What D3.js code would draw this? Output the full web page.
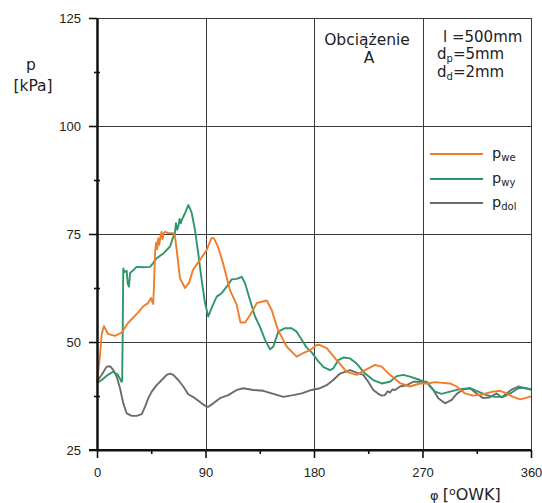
<!DOCTYPE html>
<html><head><meta charset="utf-8">
<script src="https://cdn.jsdelivr.net/npm/d3@7"></script>
<style>
html,body{margin:0;padding:0;background:#fff;}
svg{display:block;}
</style></head>
<body>
<svg id="chart" width="542" height="503"></svg>
<script>
// ---- data (degrees OWK, pressure kPa) ----
const xTicks = [0, 90, 180, 270, 360];
const xMinorTicks = [45, 135, 225, 315];
const yTicks = [25, 50, 75, 100, 125];
const yMinorTicks = [37.5, 62.5, 87.5, 112.5];
const seriesNames = ["we", "wy", "dol"];

const pWe = [[0,40.5],[2.5,47],[4,52],[5.8,53.7],[7,53],[9.1,51.9],[14.9,51.4],[20.5,52.2],[25.7,54.4],[34,56.8],[38.2,58.2],[42.3,59],[44.8,60.2],[46,59.2],[46.6,58.8],[47.3,63],[48.1,70.5],[49,73],[49.8,71.5],[50.8,74],[51.6,72.5],[52.6,74.3],[53.5,75.5],[54.3,73.8],[55.3,75.2],[56.4,75.5],[58.9,75.2],[63,75.2],[64.5,74.8],[66.1,71.3],[68.8,64.8],[73,62.5],[76.5,63.8],[79.6,66.7],[85.4,69],[91,71.3],[95.1,74.1],[97,74],[100.4,72],[104.5,68.3],[110.3,62],[115.9,58.6],[119,54.5],[122.8,54.5],[126.9,56.2],[132.5,59],[140.8,59.6],[144.9,57.4],[150.1,52.8],[157.4,48.9],[165.6,46.6],[170.9,47.4],[176.7,48.1],[182.2,49.3],[185,49.3],[190.5,48.6],[198.8,45.8],[207.1,43.1],[215.4,42.4],[222.3,43.5],[230.6,44.7],[236.1,44.3],[243,42.4],[251.3,40.5],[259.6,39.7],[267.9,40.4],[274.6,40.4],[280,40.7],[292.8,40.4],[298.4,39.7],[305.2,38.1],[311.9,37.6],[320.2,37.9],[328.5,38.5],[334.3,38.7],[339.8,38.1],[345.1,37.3],[350.9,36.7],[355,37],[360,37.4]];

const pWy = [[0,40.5],[3.9,41.2],[9.1,42.4],[13.3,43.1],[17.4,42.4],[20.3,40.8],[20.9,41],[21.4,55],[21.8,67],[23,66.2],[24.6,66.5],[25.5,63.5],[26.5,62.8],[27.5,66],[28.8,66.3],[32.9,67.4],[38.2,67.3],[44,67.4],[46.4,68.2],[49.5,69.4],[55,70.5],[60.6,72.1],[63.3,74.4],[64.5,75],[65.5,77.5],[66.5,76],[67.4,76.7],[68.5,78.5],[69.5,77.5],[70.3,78.2],[73,79.8],[75.7,81.7],[77,81],[78.6,79.8],[81.3,75.9],[84,70.5],[86.8,64.4],[89.6,59],[92.3,55.9],[95.1,57.9],[99.3,60.5],[103.4,61.3],[107.6,62.8],[111.7,64.5],[115.9,64.6],[120,65.1],[122.8,63.6],[126.9,59.7],[131.1,55.9],[135.2,53.5],[139.4,50.5],[143.5,48.3],[146.2,48.9],[150.4,52.4],[155.9,53.2],[161.5,53.2],[165.6,52.4],[169.8,50.5],[173.9,48.7],[178.1,47.6],[183.6,45.5],[188,44.2],[193.3,43.5],[196,43.9],[200.1,45.8],[204.3,46.4],[209.9,46.2],[215.4,45],[222.3,42.7],[229.2,41.2],[236.1,40.4],[243,40.8],[248.6,42.1],[254.1,42.4],[259.6,42],[267.9,41.2],[274.6,40.4],[276.2,39.7],[280.4,38.5],[285.9,38],[292.8,38.5],[301.1,39.1],[309.4,39.3],[316.3,38.5],[323.2,37.7],[330.1,37.3],[337,37.3],[344,38.3],[349.5,39.3],[355,39.4],[360,39]];

const pDol = [[0,40.8],[3.9,42.4],[8,44.3],[10.8,44.4],[13.6,43.5],[16.3,42],[19.1,39.3],[21.8,35.8],[24.6,33.5],[28.8,32.9],[32.9,32.9],[37.1,33.3],[39.8,35],[42.6,37],[45.4,38.5],[49.5,40],[53.7,41.2],[57.8,42.4],[60.6,42.7],[63.3,42.4],[67.4,41.2],[71.6,39.7],[75.7,37.9],[81.3,37],[86.8,35.8],[91,35],[92.3,35],[96.5,35.8],[102,37],[108.9,37.7],[115.9,38.9],[121.4,39.3],[129.6,38.9],[137.9,38.7],[144.9,38.1],[154.5,37.3],[162.8,37.7],[169.8,38.1],[178.1,38.9],[185,39.3],[190.5,40],[196,41.2],[201.6,42.7],[205.7,43.1],[209.9,43.5],[215.4,42.9],[220.9,42.4],[225,40.8],[229.2,38.9],[233.3,38],[236,37.6],[238.9,37.7],[241,38.6],[243,38.3],[245,39],[247.2,38.9],[251.3,39.7],[256.9,40],[262.4,40.8],[267.9,40.8],[273.5,40.8],[279,38.9],[283.1,37],[288.7,35.8],[294.2,36.6],[298.4,38],[303.8,39],[309.4,39.3],[314.9,38.1],[320.4,37],[326,37.2],[331.5,38.1],[335.7,37.2],[339.8,38.1],[344,39],[349.5,39.7],[355,39.3],[360,39]];

const colors = ["#ef7d29", "#2e9668", "#6b6b6b"];

// ---- drawing ----
const svg = d3.select("#chart");
const x = d3.scaleLinear().domain([0, 360]).range([97, 531]);
const y = d3.scaleLinear().domain([25, 125]).range([450, 18]);

// grid
const grid = svg.append("g").attr("stroke", "#3a3a3a").attr("stroke-width", 1);
yTicks.filter(v => v > 25).forEach(v => {
  grid.append("line").attr("x1", x(0)).attr("x2", x(360))
    .attr("y1", Math.round(y(v)) + 0.5).attr("y2", Math.round(y(v)) + 0.5);
});
xTicks.filter(v => v > 0).forEach(v => {
  grid.append("line").attr("y1", y(125)).attr("y2", y(25))
    .attr("x1", Math.round(x(v)) + 0.5).attr("x2", Math.round(x(v)) + 0.5);
});

// series
const line = d3.line().x(d => x(d[0])).y(d => y(d[1]));
[pDol, pWy, pWe].forEach((s, i) => {
  const c = [colors[2], colors[1], colors[0]][i];
  svg.append("path").datum(s).attr("d", line)
    .attr("fill", "none").attr("stroke", c).attr("stroke-width", 1.9)
    .attr("stroke-linejoin", "round");
});

// axes
const tickFont = "'Liberation Sans', Arial, sans-serif";
const xAxis = svg.append("g").attr("transform", `translate(0,${y(25)})`)
  .call(d3.axisBottom(x).tickValues(xTicks).tickSize(8).tickPadding(10).tickSizeOuter(0));
const xMinor = svg.append("g").attr("transform", `translate(0,${y(25)})`)
  .call(d3.axisBottom(x).tickValues(xMinorTicks).tickSize(4).tickFormat("").tickSizeOuter(0));
const yAxis = svg.append("g").attr("transform", `translate(${x(0)},0)`)
  .call(d3.axisLeft(y).tickValues(yTicks).tickSize(8).tickPadding(8).tickSizeOuter(0));
const yMinor = svg.append("g").attr("transform", `translate(${x(0)},0)`)
  .call(d3.axisLeft(y).tickValues(yMinorTicks).tickSize(3).tickFormat("").tickSizeOuter(0));
yMinor.selectAll(".tick line").attr("x2", -3).attr("x1", 3);

[xAxis, xMinor, yAxis, yMinor].forEach(g => {
  g.select(".domain").attr("stroke", "#111").attr("stroke-width", 2);
  g.selectAll(".tick line").attr("stroke", "#111").attr("stroke-width", 1.6);
  g.selectAll("text").attr("font-family", tickFont).attr("font-size", 13).attr("fill", "#222");
});
xAxis.select(".domain").attr("d", `M${x(0) - 8},0H${x(360)}`);

// axis labels
const labFont = "'DejaVu Sans', Verdana, sans-serif";
svg.append("text").attr("x", 31).attr("y", 70).attr("text-anchor", "middle")
  .attr("font-family", labFont).attr("font-size", 15.5).attr("fill", "#222").text("p");
svg.append("text").attr("x", 33).attr("y", 91).attr("text-anchor", "middle")
  .attr("font-family", labFont).attr("font-size", 15.5).attr("fill", "#222").text("[kPa]");

const xl = svg.append("text").attr("x", 430).attr("y", 500)
  .attr("font-family", labFont).attr("font-size", 16).attr("fill", "#222");
xl.append("tspan").attr("font-size", 13).text("φ ");
xl.append("tspan").text("[");
xl.append("tspan").attr("font-size", 11).attr("dy", -5).text("o");
xl.append("tspan").attr("dy", 5).text("OWK]");

// annotations
svg.append("text").attr("x", 367).attr("y", 45).attr("text-anchor", "middle")
  .attr("font-family", labFont).attr("font-size", 15.5).attr("fill", "#222").text("Obciążenie");
svg.append("text").attr("x", 369).attr("y", 63).attr("text-anchor", "middle")
  .attr("font-family", labFont).attr("font-size", 15.5).attr("fill", "#222").text("A");

const ann = [["l", " =500mm", 443, 42], ["d", "=5mm", 437, 59, "p"], ["d", "=2mm", 437, 77, "d"]];
ann.forEach(a => {
  const t = svg.append("text").attr("x", a[2]).attr("y", a[3])
    .attr("font-family", labFont).attr("font-size", 15).attr("fill", "#222");
  t.append("tspan").text(a[0]);
  if (a[4]) {
    t.append("tspan").attr("font-size", 10).attr("dy", 3).text(a[4]);
    t.append("tspan").attr("dy", -3).text(a[1]);
  } else {
    t.append("tspan").text(a[1]);
  }
});

// legend
const legY = [154, 179, 203];
[pWe, pWy, pDol].forEach((s, i) => {
  svg.append("line").attr("x1", 430).attr("x2", 483).attr("y1", legY[i]).attr("y2", legY[i])
    .attr("stroke", colors[i]).attr("stroke-width", 1.9);
  const t = svg.append("text").attr("x", 492).attr("y", legY[i] + 4)
    .attr("font-family", labFont).attr("font-size", 14.5).attr("fill", "#222");
  t.append("tspan").text("p");
  t.append("tspan").attr("font-size", 10).attr("dy", 3).text(seriesNames[i]);
});
</script>
</body></html>
